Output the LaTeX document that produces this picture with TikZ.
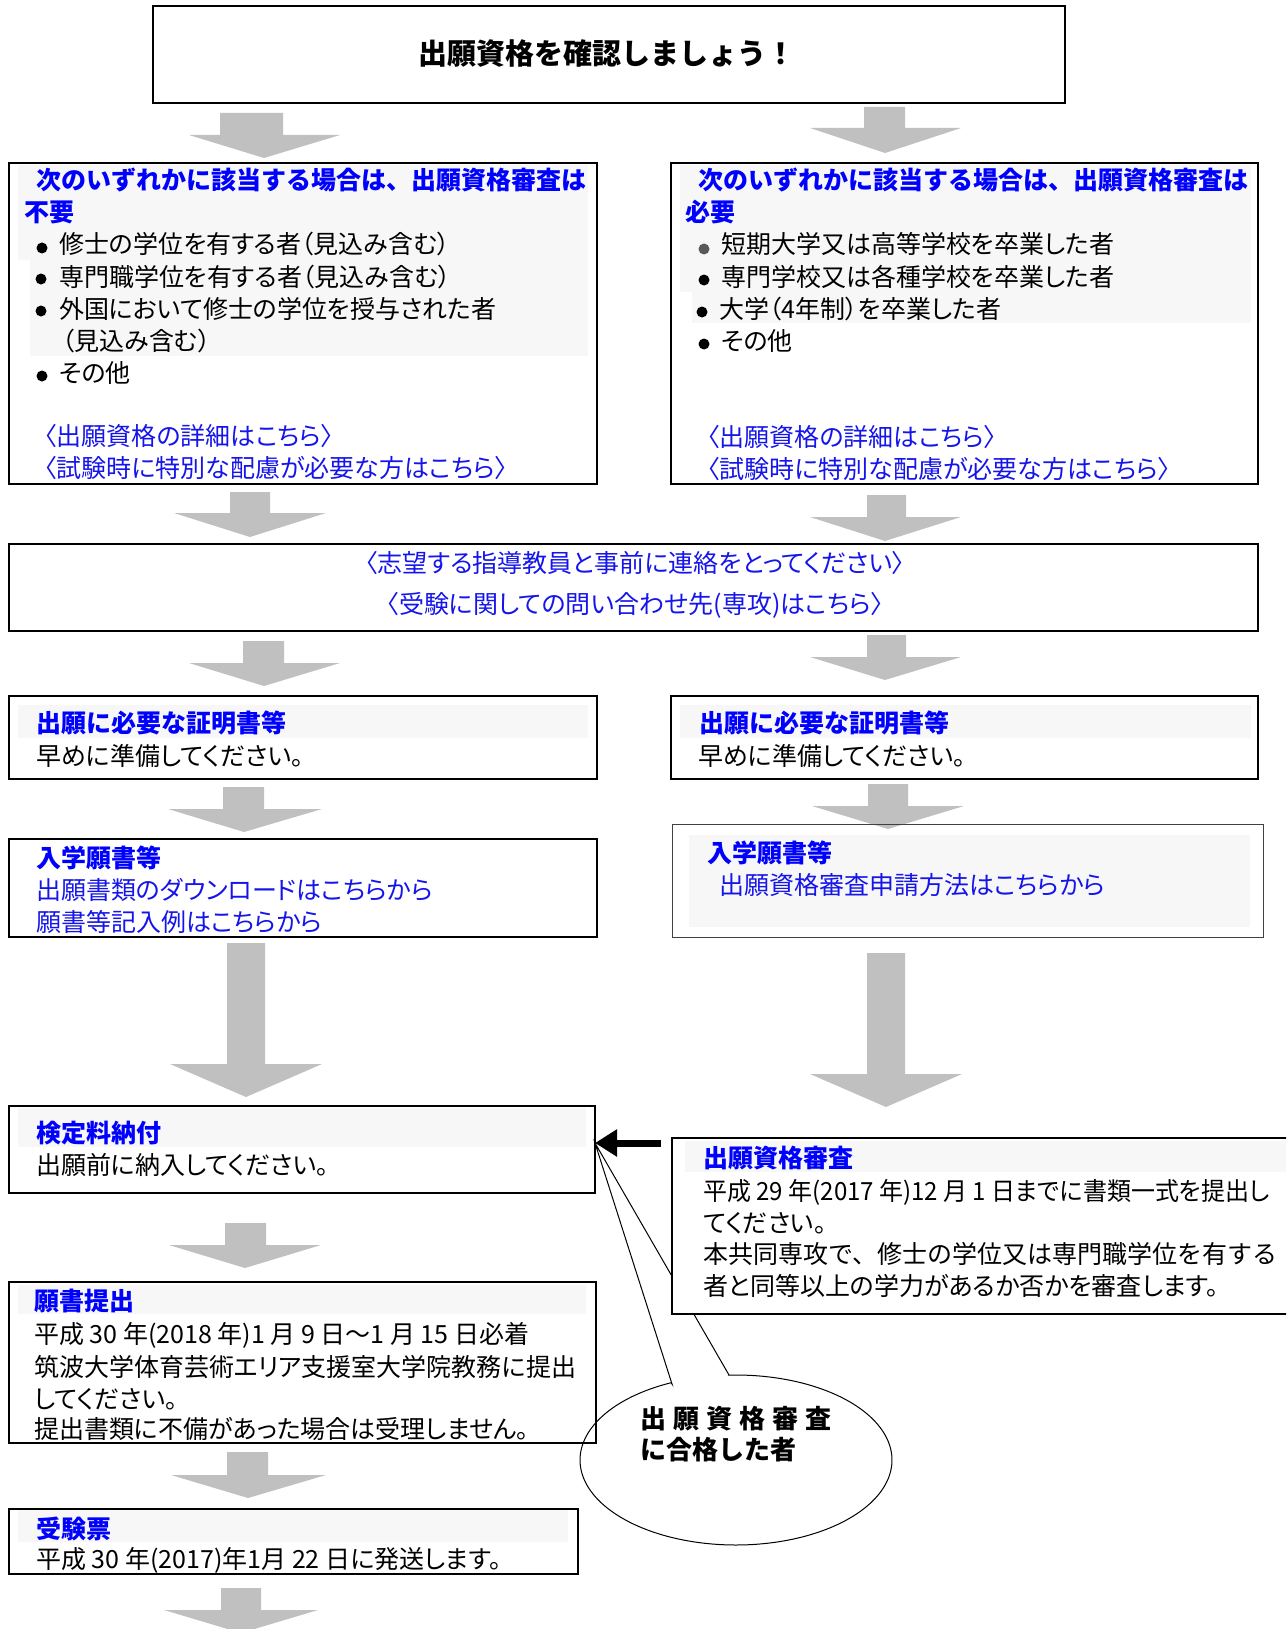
\documentclass[tikz,border=0pt]{standalone}
\usepackage{fontspec}
\setmainfont{Noto Sans CJK JP}
\newfontfamily\pf{Noto Sans CJK JP}[RawFeature=+palt]
\usetikzlibrary{arrows.meta}
\definecolor{hblue}{RGB}{0,0,255}
\definecolor{lblue}{RGB}{20,20,235}
\definecolor{agray}{RGB}{192,192,192}
\definecolor{bgray}{RGB}{247,247,247}
\newcommand\hdf{\fontsize{25}{30}\selectfont\bfseries}
\newcommand\bdf{\pf\fontsize{25}{30}\selectfont}
\newcommand\fwf{\fontsize{25}{30}\selectfont}
\newcommand\garr[8]{\fill[agray] (#1,#3) -- (#2,#3) -- (#2,#4) -- (#6,#4) -- (#7,#8) -- (#5,#4) -- (#1,#4) -- cycle;}
\newcommand\mkbox[6]{\node[#6, anchor=north west, minimum width={#4-#2}, minimum height={#5-#3}] (#1) at (#2,#3) {};}
\tikzset{
  box/.style={draw=black, line width=2pt, inner sep=0pt, outer sep=0pt},
  thinbox/.style={draw=black!75, line width=1pt, inner sep=0pt, outer sep=0pt},
  midbox/.style={draw=black, line width=1.5pt, fill=white, inner sep=0pt, outer sep=0pt},
  hd/.style={anchor=base west, inner sep=0pt, font=\hdf, text=hblue},
  tx/.style={anchor=base west, inner sep=0pt, font=\bdf, text=black},
  lk/.style={anchor=base west, inner sep=0pt, font=\bdf, text=lblue},
  lkc/.style={anchor=base, inner sep=0pt, font=\bdf, text=lblue},
  band/.style={fill=bgray},
  callout/.style={draw=black, line width=1pt},
  blkarrow/.style={draw=black, line width=7pt, -{Triangle[length=22pt,width=26pt]}},
}
\begin{document}
\begin{tikzpicture}[x=1pt,y=-1pt]
\useasboundingbox (0,0) rectangle (1286,1629);
\clip (0,0) rectangle (1286,1629);
% callout (behind box 7)
\coordinate (ctip) at (595,1143);
\coordinate (cA) at (672,1384);
\coordinate (cB) at (729,1375);
\draw[callout] (cA) -- (ctip) -- (cB) -- plot[domain=267.4:605.4,samples=160] ({736+156*cos(\x)},{1460+85*sin(\x)}) -- cycle;
% gray block arrows
\garr{220}{283}{113}{135}{189}{340}{264}{158}
\garr{864}{905}{107}{128}{810}{961}{885}{153}
\garr{230}{270}{492}{513}{174}{326}{250}{537}
\garr{867}{906}{495}{517}{810}{961}{885}{541}
\garr{243}{284}{641}{663}{189}{340}{264}{686}
\garr{867}{906}{635}{657}{810}{961}{885}{680}
\garr{223}{264}{787}{809}{168}{322}{244}{832}
\garr{868}{908}{784}{806}{812}{964}{888}{829}
\garr{227}{265}{943}{1064}{170}{322}{246}{1097}
\garr{867}{905}{953}{1074}{810}{962}{886}{1107}
\garr{225}{266}{1223}{1245}{169}{321}{245}{1268}
\garr{227}{268}{1452}{1475}{171}{326}{248}{1498}
\garr{221}{261}{1588}{1610}{164}{318}{241}{1633}
% boxes
\mkbox{top}{153}{6}{1065}{103}{box}
\mkbox{b2L}{9}{163}{597}{484}{box}
\mkbox{b2R}{671}{163}{1258}{484}{box}
\mkbox{b3}{9}{544}{1258}{631}{box}
\mkbox{b4L}{9}{696}{597}{779}{box}
\mkbox{b4R}{671}{696}{1258}{779}{box}
\mkbox{b5L}{9}{839}{597}{937}{box}
\mkbox{b5R}{672}{824}{1263}{937}{thinbox}
\mkbox{b6}{9}{1106}{595}{1193}{box}
\mkbox{b7}{672}{1138}{1300}{1314}{midbox}
\mkbox{b8}{9}{1282}{596}{1443}{box}
\mkbox{b9}{9}{1509}{578}{1574}{box}
% light bands
\fill[band] (18,165) rectangle (588,260);
\fill[band] (30,260) rectangle (588,356);
\fill[band] (680,165) rectangle (1251,292);
\fill[band] (692,292) rectangle (1251,323);
\fill[band] (18,705) rectangle (588,738);
\fill[band] (680,705) rectangle (1251,738);
\fill[band] (689,835) rectangle (1250,927);
\fill[band] (18,1108) rectangle (586,1147);
\fill[band] (685,1141) rectangle (1300,1172);
\fill[band] (18,1285) rectangle (586,1314);
\fill[band] (18,1510) rectangle (568,1542);
% black arrow
\coordinate (atail) at (661,1143);
\draw[blkarrow] (atail) -- (ctip);
% title
\node[inner sep=0pt, font=\fontsize{29}{34}\selectfont\bfseries] (title) at (607,54) {出願資格を確認しましょう！};
% left box 2
\node[hd] (l2h1) at (36,190) {次のいずれかに該当する場合は、出願資格審査は};
\node[hd] (l2h2) at (24,222) {不要};
\fill (42,248) circle (5.5pt);
\node[tx] (l2i1) at (59,254) {修士の学位を有する者（見込み含む）};
\fill (41,279) circle (5.5pt);
\node[tx] (l2i2) at (59,286) {専門職学位を有する者（見込み含む）};
\fill (41,311) circle (5.5pt);
\node[tx] (l2i3) at (59,318) {外国において修士の学位を授与された者};
\node[tx] (l2i3b) at (62,350) {（見込み含む）};
\fill (42,376) circle (5.5pt);
\node[tx] (l2i4) at (59,382) {その他};
\node[lk] (l2k1) at (44,445) {〈出願資格の詳細はこちら〉};
\node[lk] (l2k2) at (44,477) {〈試験時に特別な配慮が必要な方はこちら〉};
% right box 2
\node[hd] (r2h1) at (698,190) {次のいずれかに該当する場合は、出願資格審査は};
\node[hd] (r2h2) at (685,222) {必要};
\fill[black!65] (704,249) circle (5.5pt);
\node[tx] (r2i1) at (721,254) {短期大学又は高等学校を卒業した者};
\fill (704,280) circle (5.5pt);
\node[tx] (r2i2) at (721,286) {専門学校又は各種学校を卒業した者};
\fill (702,312) circle (5.5pt);
\node[tx] (r2i3) at (719,318) {大学（4年制）を卒業した者};
\fill (704,344) circle (5.5pt);
\node[tx] (r2i4) at (721,350) {その他};
\node[lk] (r2k1) at (707,446) {〈出願資格の詳細はこちら〉};
\node[lk] (r2k2) at (707,478) {〈試験時に特別な配慮が必要な方はこちら〉};
% box 3
\node[lkc] (b3t1) at (635,572) {〈志望する指導教員と事前に連絡をとってください〉};
\node[lkc] (b3t2) at (635,613) {〈受験に関しての問い合わせ先(専攻)はこちら〉};
% box 4
\node[hd] (l4h) at (36,732) {出願に必要な証明書等};
\node[tx] (l4t) at (36,765) {早めに準備してください。};
\node[hd] (r4h) at (699,732) {出願に必要な証明書等};
\node[tx] (r4t) at (698,765) {早めに準備してください。};
% box 5
\node[hd] (l5h) at (36,867) {入学願書等};
\node[lk] (l5k1) at (36,899) {出願書類のダウンロードはこちらから};
\node[lk] (l5k2) at (36,931) {願書等記入例はこちらから};
\node[hd] (r5h) at (707,862) {入学願書等};
\node[lk] (r5k1) at (719,894) {出願資格審査申請方法はこちらから};
% box 6
\node[hd] (b6h) at (36,1142) {検定料納付};
\node[tx] (b6t) at (36,1174) {出願前に納入してください。};
% box 7
\node[hd] (b7h) at (703,1167) {出願資格審査};
\node[tx, xscale=0.96, transform shape] (b7t1) at (703,1200) {平成 29 年(2017 年)12 月 1 日までに書類一式を提出し};
\node[tx] (b7t2) at (703,1232) {てください。};
\node[tx, font=\fwf] (b7t3) at (703,1263) {本共同専攻で、修士の学位又は専門職学位を有する};
\node[tx] (b7t4) at (703,1295) {者と同等以上の学力があるか否かを審査します。};
% box 8
\node[hd] (b8h) at (34,1310) {願書提出};
\node[tx] (b8t1) at (34,1343) {平成 30 年(2018 年)1 月 9 日～1 月 15 日必着};
\node[tx] (b8t2) at (34,1376) {筑波大学体育芸術エリア支援室大学院教務に提出};
\node[tx] (b8t3) at (34,1408) {してください。};
\node[tx] (b8t4) at (34,1438) {提出書類に不備があった場合は受理しません。};
% box 9
\node[hd] (b9h) at (36,1538) {受験票};
\node[tx] (b9t) at (36,1568) {平成 30 年(2017)年1月 22 日に発送します。};
% callout text
\node[anchor=base west, inner sep=0pt, font=\fontsize{26}{30}\selectfont\bfseries] (ct1) at (640,1428) {出\hspace{7pt}願\hspace{7pt}資\hspace{7pt}格\hspace{7pt}審\hspace{7pt}査};
\node[anchor=base west, inner sep=0pt, font=\fontsize{26}{30}\selectfont\bfseries] (ct2) at (640,1459) {に合格した者};
\end{tikzpicture}
\end{document}
